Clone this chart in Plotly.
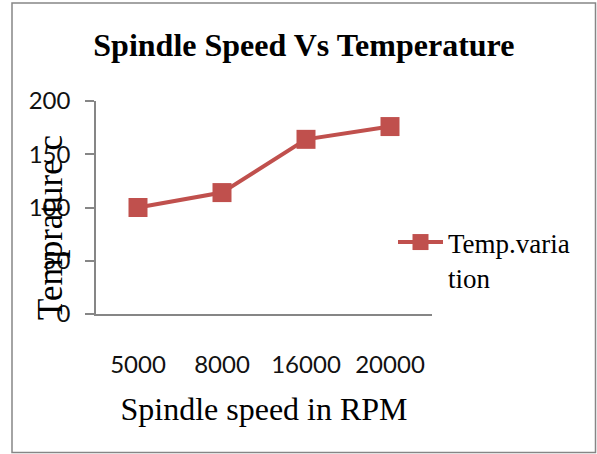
import plotly.graph_objects as go

# Spindle speed (RPM) categories and measured temperatures
spindle_speed = ["5000", "8000", "16000", "20000"]
temperature = [100, 114, 164, 176]
series_name = "Temp.varia<br>tion"
y_ticks = [0, 50, 100, 150, 200]

RED = "#C0504D"
AXIS_GREY = "#868686"

fig = go.Figure()
fig.add_trace(go.Scatter(
    x=spindle_speed,
    y=temperature,
    mode="lines+markers",
    name=series_name,
    line=dict(color=RED, width=4),
    marker=dict(symbol="square", size=19, color=RED),
))

fig.update_layout(
    width=597,
    height=454,
    margin=dict(l=96, r=165, t=101, b=140),
    paper_bgcolor="white",
    plot_bgcolor="white",
    showlegend=True,
    title=dict(
        text="<b>Spindle Speed Vs Temperature</b>",
        font=dict(family="Liberation Serif", size=32, color="black"),
        x=0.509, xanchor="center",
        y=1 - 45 / 454, yanchor="middle",
    ),
    xaxis=dict(
        type="category",
        range=[-0.5, 3.5],
        showline=True, linecolor=AXIS_GREY, linewidth=1.5,
        ticks="", showgrid=False, zeroline=False,
        tickfont=dict(family="Lato", size=24, color="#111"),
        ticklabelstandoff=28,
        title=dict(
            text="Spindle speed in RPM",
            font=dict(family="Liberation Serif", size=32, color="black"),
            standoff=21,
        ),
    ),
    yaxis=dict(
        range=[0, 200],
        tickvals=y_ticks,
        showline=True, linecolor=AXIS_GREY, linewidth=1.5,
        ticks="outside", ticklen=9, tickcolor=AXIS_GREY, tickwidth=1.5,
        showgrid=False, zeroline=False,
        tickfont=dict(family="Lato", size=24, color="#111"),
        ticklabelstandoff=10,
    ),
    legend=dict(
        x=(393 - 96) / 336, xanchor="left",
        y=(314 - 218) / 213, yanchor="top",
        valign="top",
        itemwidth=45,
        font=dict(family="Liberation Serif", size=27, color="black"),
        bgcolor="rgba(0,0,0,0)",
    ),
    annotations=[dict(
        text="Temprature c",
        xref="paper", yref="paper",
        x=(50 - 96) / 336, y=(314 - 227) / 213,
        xanchor="center", yanchor="middle",
        textangle=-90, showarrow=False,
        font=dict(family="Liberation Serif", size=35, color="black"),
    )],
    shapes=[dict(
        type="rect", xref="paper", yref="paper",
        x0=(12 - 96) / 336, x1=(595.5 - 96) / 336,
        y0=(314 - 452.5) / 213, y1=(314 - 3) / 213,
        line=dict(color=AXIS_GREY, width=1.5),
        layer="below",
    )],
)

fig.write_html("out.html")
